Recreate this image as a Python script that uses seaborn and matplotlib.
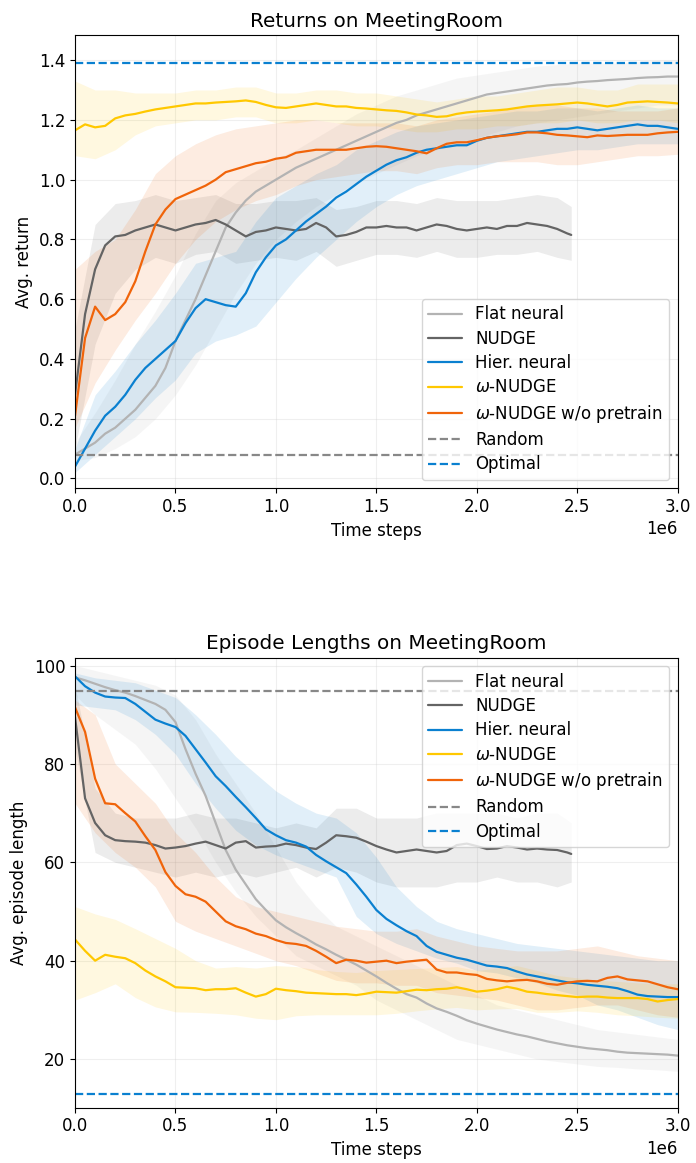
import numpy as np
import matplotlib
matplotlib.use("Agg")
import matplotlib.pyplot as plt
import seaborn as sns

# ---------------- data ----------------
steps = np.linspace(0, 3e6, 61)
band_steps = np.linspace(0, 3e6, 31)
nudge_steps = np.append(np.linspace(0, 2.45e6, 50), 2.47e6)
nudge_band_steps = np.append(np.linspace(0, 2.4e6, 25), 2.47e6)

series_names = ["Flat neural", "NUDGE", "Hier. neural", r"$\omega$-NUDGE", r"$\omega$-NUDGE w/o pretrain"]

# Returns
ret_flat = [0.08,0.10,0.12,0.15,0.17,0.20,0.23,0.27,0.31,0.37,
            0.46,0.53,0.60,0.68,0.76,0.84,0.89,0.93,0.96,0.98,
            1.00,1.02,1.04,1.055,1.07,1.085,1.10,1.115,1.13,1.145,
            1.16,1.175,1.19,1.20,1.215,1.225,1.235,1.245,1.255,1.265,
            1.275,1.285,1.29,1.295,1.30,1.305,1.31,1.315,1.318,1.32,
            1.325,1.328,1.33,1.333,1.335,1.337,1.34,1.342,1.343,1.345,
            1.345]
ret_nudge = [0.28,0.55,0.70,0.78,0.81,0.815,0.83,0.84,0.85,0.84,
             0.83,0.84,0.85,0.855,0.865,0.85,0.83,0.81,0.825,0.83,
             0.84,0.835,0.83,0.835,0.855,0.84,0.81,0.815,0.825,0.84,
             0.84,0.845,0.84,0.84,0.83,0.84,0.85,0.845,0.835,0.83,
             0.835,0.84,0.835,0.845,0.845,0.855,0.85,0.845,0.835,0.82,
             0.815]
ret_hier = [0.04,0.10,0.16,0.21,0.24,0.28,0.33,0.37,0.40,0.43,
            0.46,0.52,0.57,0.60,0.59,0.58,0.575,0.62,0.69,0.74,
            0.78,0.80,0.83,0.86,0.885,0.91,0.94,0.96,0.985,1.01,
            1.03,1.05,1.065,1.075,1.09,1.10,1.105,1.11,1.115,1.115,
            1.13,1.14,1.145,1.15,1.155,1.16,1.16,1.165,1.17,1.17,
            1.175,1.17,1.165,1.17,1.175,1.18,1.185,1.18,1.18,1.175,
            1.17]
ret_omega = [1.165,1.185,1.175,1.18,1.205,1.215,1.22,1.228,1.235,1.24,
             1.245,1.25,1.255,1.255,1.258,1.26,1.262,1.265,1.26,1.25,
             1.242,1.24,1.245,1.25,1.255,1.25,1.245,1.245,1.24,1.238,
             1.235,1.232,1.23,1.225,1.218,1.215,1.21,1.212,1.22,1.225,
             1.228,1.23,1.232,1.235,1.24,1.245,1.248,1.25,1.252,1.255,
             1.258,1.255,1.25,1.245,1.25,1.258,1.26,1.262,1.26,1.258,
             1.255]
ret_omega_np = [0.21,0.47,0.575,0.53,0.55,0.59,0.66,0.76,0.85,0.90,
                0.935,0.95,0.965,0.98,1.0,1.025,1.035,1.045,1.055,1.06,
                1.07,1.075,1.09,1.095,1.10,1.10,1.10,1.10,1.105,1.11,
                1.112,1.11,1.105,1.10,1.095,1.088,1.105,1.12,1.125,1.125,
                1.132,1.14,1.145,1.148,1.152,1.158,1.158,1.155,1.15,1.148,
                1.145,1.142,1.148,1.146,1.148,1.15,1.15,1.15,1.155,1.158,
                1.16]

ret_flat_lo = [0.06,0.07,0.10,0.14,0.20,0.28,0.38,0.50,0.62,0.72,0.80,0.86,0.91,0.95,0.99,1.02,
               1.05,1.08,1.10,1.12,1.14,1.16,1.18,1.19,1.20,1.21,1.22,1.23,1.24,1.25,1.25]
ret_flat_hi = [0.12,0.22,0.33,0.45,0.56,0.68,0.82,0.93,0.99,1.03,1.07,1.10,1.14,1.18,1.22,1.25,
               1.28,1.30,1.32,1.34,1.35,1.36,1.37,1.38,1.385,1.39,1.39,1.39,1.395,1.40,1.40]
ret_nudge_lo = [0.10,0.45,0.62,0.70,0.74,0.72,0.75,0.76,0.72,0.73,0.74,0.73,0.76,0.71,0.73,0.75,
                0.75,0.74,0.76,0.74,0.74,0.75,0.75,0.76,0.74,0.73]
ret_nudge_hi = [0.50,0.85,0.92,0.93,0.95,0.93,0.94,0.95,0.92,0.92,0.93,0.93,0.94,0.90,0.91,0.93,
                0.93,0.92,0.94,0.93,0.93,0.93,0.94,0.95,0.94,0.91]
ret_hier_lo = [0.02,0.08,0.14,0.20,0.27,0.33,0.42,0.46,0.48,0.51,0.59,0.67,0.74,0.80,0.86,0.91,
               0.95,0.98,1.00,1.02,1.04,1.06,1.07,1.08,1.09,1.10,1.10,1.11,1.12,1.12,1.12]
ret_hier_hi = [0.10,0.28,0.36,0.45,0.53,0.62,0.72,0.74,0.76,0.86,0.94,0.98,1.02,1.05,1.10,1.13,
               1.16,1.18,1.19,1.20,1.21,1.22,1.23,1.23,1.24,1.24,1.23,1.24,1.25,1.24,1.24]
ret_omega_lo = [1.08,1.07,1.10,1.15,1.18,1.19,1.20,1.20,1.21,1.21,1.19,1.19,1.20,1.19,1.18,1.18,
                1.17,1.16,1.16,1.17,1.17,1.18,1.18,1.19,1.19,1.20,1.19,1.19,1.20,1.20,1.19]
ret_omega_hi = [1.33,1.30,1.30,1.29,1.29,1.29,1.30,1.30,1.31,1.31,1.29,1.29,1.30,1.30,1.29,1.29,
                1.28,1.27,1.26,1.27,1.28,1.28,1.29,1.30,1.31,1.31,1.30,1.30,1.32,1.32,1.32]
ret_omega_np_lo = [0.17,0.32,0.43,0.53,0.62,0.72,0.80,0.86,0.90,0.93,0.95,0.98,1.00,1.01,1.02,1.03,
                   1.03,1.02,1.04,1.05,1.05,1.06,1.06,1.06,1.05,1.05,1.06,1.07,1.08,1.08,1.085]
ret_omega_np_hi = [0.70,0.76,0.80,0.90,1.02,1.08,1.12,1.15,1.17,1.18,1.19,1.20,1.20,1.19,1.19,1.19,
                   1.19,1.18,1.20,1.21,1.22,1.23,1.24,1.25,1.25,1.24,1.24,1.23,1.23,1.23,1.24]
ret_random = 0.08
ret_optimal = 1.39

# Episode lengths
len_flat = [97.6,97.0,96.3,95.6,95.0,94.5,93.8,93.0,92.2,91.0,
            88.5,83.0,78.0,73.5,68.0,62.5,58.5,55.5,52.5,50.3,
            48.2,46.8,45.6,44.5,43.3,42.3,41.2,40.2,39.2,38.0,
            36.8,35.5,34.3,33.2,32.5,31.3,30.3,29.6,28.8,27.9,
            27.2,26.6,26.0,25.5,25.0,24.6,24.1,23.6,23.2,22.8,
            22.5,22.2,22.0,21.8,21.5,21.3,21.2,21.1,21.0,20.9,
            20.7]
len_nudge = [89.5,73.0,68.0,65.5,64.5,64.3,64.2,64.0,63.5,62.8,
             63.0,63.3,63.8,64.2,63.5,62.8,64.0,64.3,63.0,63.2,
             63.3,63.8,63.5,63.0,62.7,64.0,65.5,65.3,65.0,64.2,
             63.3,62.6,62.0,62.3,62.6,62.3,62.0,62.3,63.5,63.8,
             63.3,62.7,62.8,63.3,63.0,62.6,62.8,62.6,62.5,62.0,
             61.7]
len_hier = [97.8,95.8,94.5,93.7,93.5,93.4,92.2,90.6,89.0,88.2,
            87.5,85.7,83.0,80.3,77.5,75.5,73.3,71.2,69.0,66.7,
            65.5,64.5,64.0,63.2,61.5,60.2,59.0,57.8,55.5,53.0,
            50.3,48.5,47.2,46.0,45.0,43.0,41.8,41.2,40.6,40.2,
            39.6,39.0,38.8,38.5,37.8,37.2,36.8,36.4,36.0,35.6,
            35.4,35.1,34.9,34.7,34.4,33.8,33.1,32.8,32.7,32.6,
            32.6]
len_omega = [44.3,42.0,40.0,41.2,40.8,40.5,39.5,38.0,36.8,35.8,
             34.6,34.5,34.4,34.0,34.2,34.2,34.4,33.5,32.7,33.2,
             34.3,34.0,33.8,33.5,33.4,33.3,33.2,33.2,33.0,33.3,
             33.7,33.6,33.5,33.8,34.1,34.0,34.2,34.3,34.6,34.2,
             33.7,33.9,34.2,34.7,34.3,33.7,33.5,33.2,33.0,32.8,
             32.6,32.7,32.7,32.5,32.4,32.4,32.4,32.2,31.7,32.0,
             32.2]
len_omega_np = [91.5,86.5,77.0,72.0,71.8,70.0,68.3,65.3,62.5,58.0,
                55.2,53.5,53.0,52.0,50.0,48.0,47.0,46.4,45.5,45.0,
                44.2,43.6,43.4,43.0,42.0,40.8,39.5,40.2,40.0,39.6,
                39.8,40.0,39.5,39.8,40.0,40.2,38.2,37.6,37.6,37.3,
                37.1,36.3,36.0,35.8,36.0,36.1,35.8,35.3,35.1,35.5,
                35.8,35.9,35.8,36.5,36.8,36.2,36.0,35.8,35.2,34.6,
                34.2]

len_flat_lo = [94,90,87,84,79,73,67,60,54,49,45,41,39,37,35,32,30,28,26,24,23,22,21,20,19.5,19,
               18.5,18.3,18,17.8,17.5]
len_flat_hi = [100,99,98,97,96,94,89,82,76,70,63,56,51,47,45,43,41,39,37,35,33,31,30,29,28,27,
               26,25.5,25,24.5,24]
len_nudge_lo = [83,62,60,59,58,57,58,57,58,57,58,59,57,59,58,56,55,55,55,56,56,57,56,56,55,56]
len_nudge_hi = [96,75,70,69,69,69,70,69,69,68,67,68,67,71,71,69,69,69,70,70,70,70,69,70,70,68]
len_hier_lo = [92,91.5,91,89,86,82,76,71,66.5,63.5,61.5,60,58.5,57,49,45.5,43.5,42,40.5,39.5,
               38,37.5,36.5,35.5,34,33,31,30,28.5,27,26]
len_hier_hi = [98.5,97.5,97,96.5,95,93.5,90,86,81.5,78,74.5,72,70,69,66,61,55,51,48,46.5,
               45.5,44.5,43.5,43,42.5,42,41.5,41,40.5,40,40]
len_omega_lo = [32.0,33.5,35.3,32.5,30.6,29.6,29.5,29.3,29.0,28.3,28.0,28.8,29.0,29.0,29.0,29.0,
                29.3,29.8,30.2,30.5,30.0,30.2,30.3,29.5,29.5,29.8,29.5,29.0,28.8,28.5,28.3]
len_omega_hi = [51.0,49.5,48.4,46.5,44.5,42.5,40.0,38.5,38.8,38.5,39.0,38.8,38.2,37.8,37.6,38.0,
                38.2,38.4,38.6,38.8,38.0,38.5,39.0,38.0,37.0,36.5,36.0,35.8,35.5,35.3,35.3]
len_omega_np_lo = [72,66,62,59,55,48,46,44.5,43,41.5,40,39,37.5,36,35.5,35.5,35,35,33.5,33,32.5,
                   32,31,30,30,30.5,31,31,30,29,28.5]
len_omega_np_hi = [93,90,80,76,72,66,62,57,53,51,50,49,48,47,46.5,46,46,46.5,45,44,43,42.5,42,
                   42,42,42.5,43,42,41,40.5,40]
len_random = 94.85
len_optimal = 12.9

# ---------------- style ----------------
colors = ["#b3b3b3", "#646464", "#0a80d0", "#ffc800", "#f0640a"]
random_color = "#888888"

sns.set_style("ticks")
plt.rcParams.update({
    "font.family": ["DejaVu Sans"],
    "font.size": 12,
    "xtick.labelsize": 12,
    "ytick.labelsize": 12,
    "axes.labelsize": 12,
    "axes.titlesize": 14.4,
    "legend.fontsize": 12,
    "axes.edgecolor": "black",
    "xtick.color": "black",
    "ytick.color": "black",
    "axes.labelcolor": "black",
    "text.color": "black",
})

fig = plt.figure(figsize=(6.96, 11.63), dpi=100)
ax1 = fig.add_axes([0.1078, 0.5801, 0.8659, 0.3898])
ax2 = fig.add_axes([0.1078, 0.0475, 0.8659, 0.3870])


def draw(ax, means, bands, random_v, optimal_v, title, ylabel, ylim, loc):
    xs_list = [steps, nudge_steps, steps, steps, steps]
    bx_list = [band_steps, nudge_band_steps, band_steps, band_steps, band_steps]
    for (lo, hi), bx, c in zip(bands, bx_list, colors):
        ax.fill_between(bx, lo, hi, color=c, alpha=0.12, lw=0)
    for y, xs, c, name in zip(means, xs_list, colors, series_names):
        sns.lineplot(x=xs, y=y, color=c, lw=1.6, label=name, ax=ax)
    ax.axhline(random_v, ls="--", color=random_color, lw=1.6, label="Random")
    ax.axhline(optimal_v, ls="--", color=colors[2], lw=1.6, label="Optimal")
    ax.set_xlim(0, 3e6)
    ax.set_ylim(*ylim)
    ax.grid(True, alpha=0.3)
    ax.set_title(title)
    ax.set_xlabel("Time steps")
    ax.set_ylabel(ylabel)
    for s in ax.spines.values():
        s.set_visible(True)
        s.set_color("black")
    ax.legend(loc=loc, labelspacing=0.38)


draw(ax1,
     [ret_flat, ret_nudge, ret_hier, ret_omega, ret_omega_np],
     [(ret_flat_lo, ret_flat_hi), (ret_nudge_lo, ret_nudge_hi), (ret_hier_lo, ret_hier_hi),
      (ret_omega_lo, ret_omega_hi), (ret_omega_np_lo, ret_omega_np_hi)],
     ret_random, ret_optimal, "Returns on MeetingRoom", "Avg. return", (-0.033, 1.484), "lower right")

draw(ax2,
     [len_flat, len_nudge, len_hier, len_omega, len_omega_np],
     [(len_flat_lo, len_flat_hi), (len_nudge_lo, len_nudge_hi), (len_hier_lo, len_hier_hi),
      (len_omega_lo, len_omega_hi), (len_omega_np_lo, len_omega_np_hi)],
     len_random, len_optimal, "Episode Lengths on MeetingRoom", "Avg. episode length", (10.1, 101.6), "upper right")

fig.savefig("out.png", dpi=100)
